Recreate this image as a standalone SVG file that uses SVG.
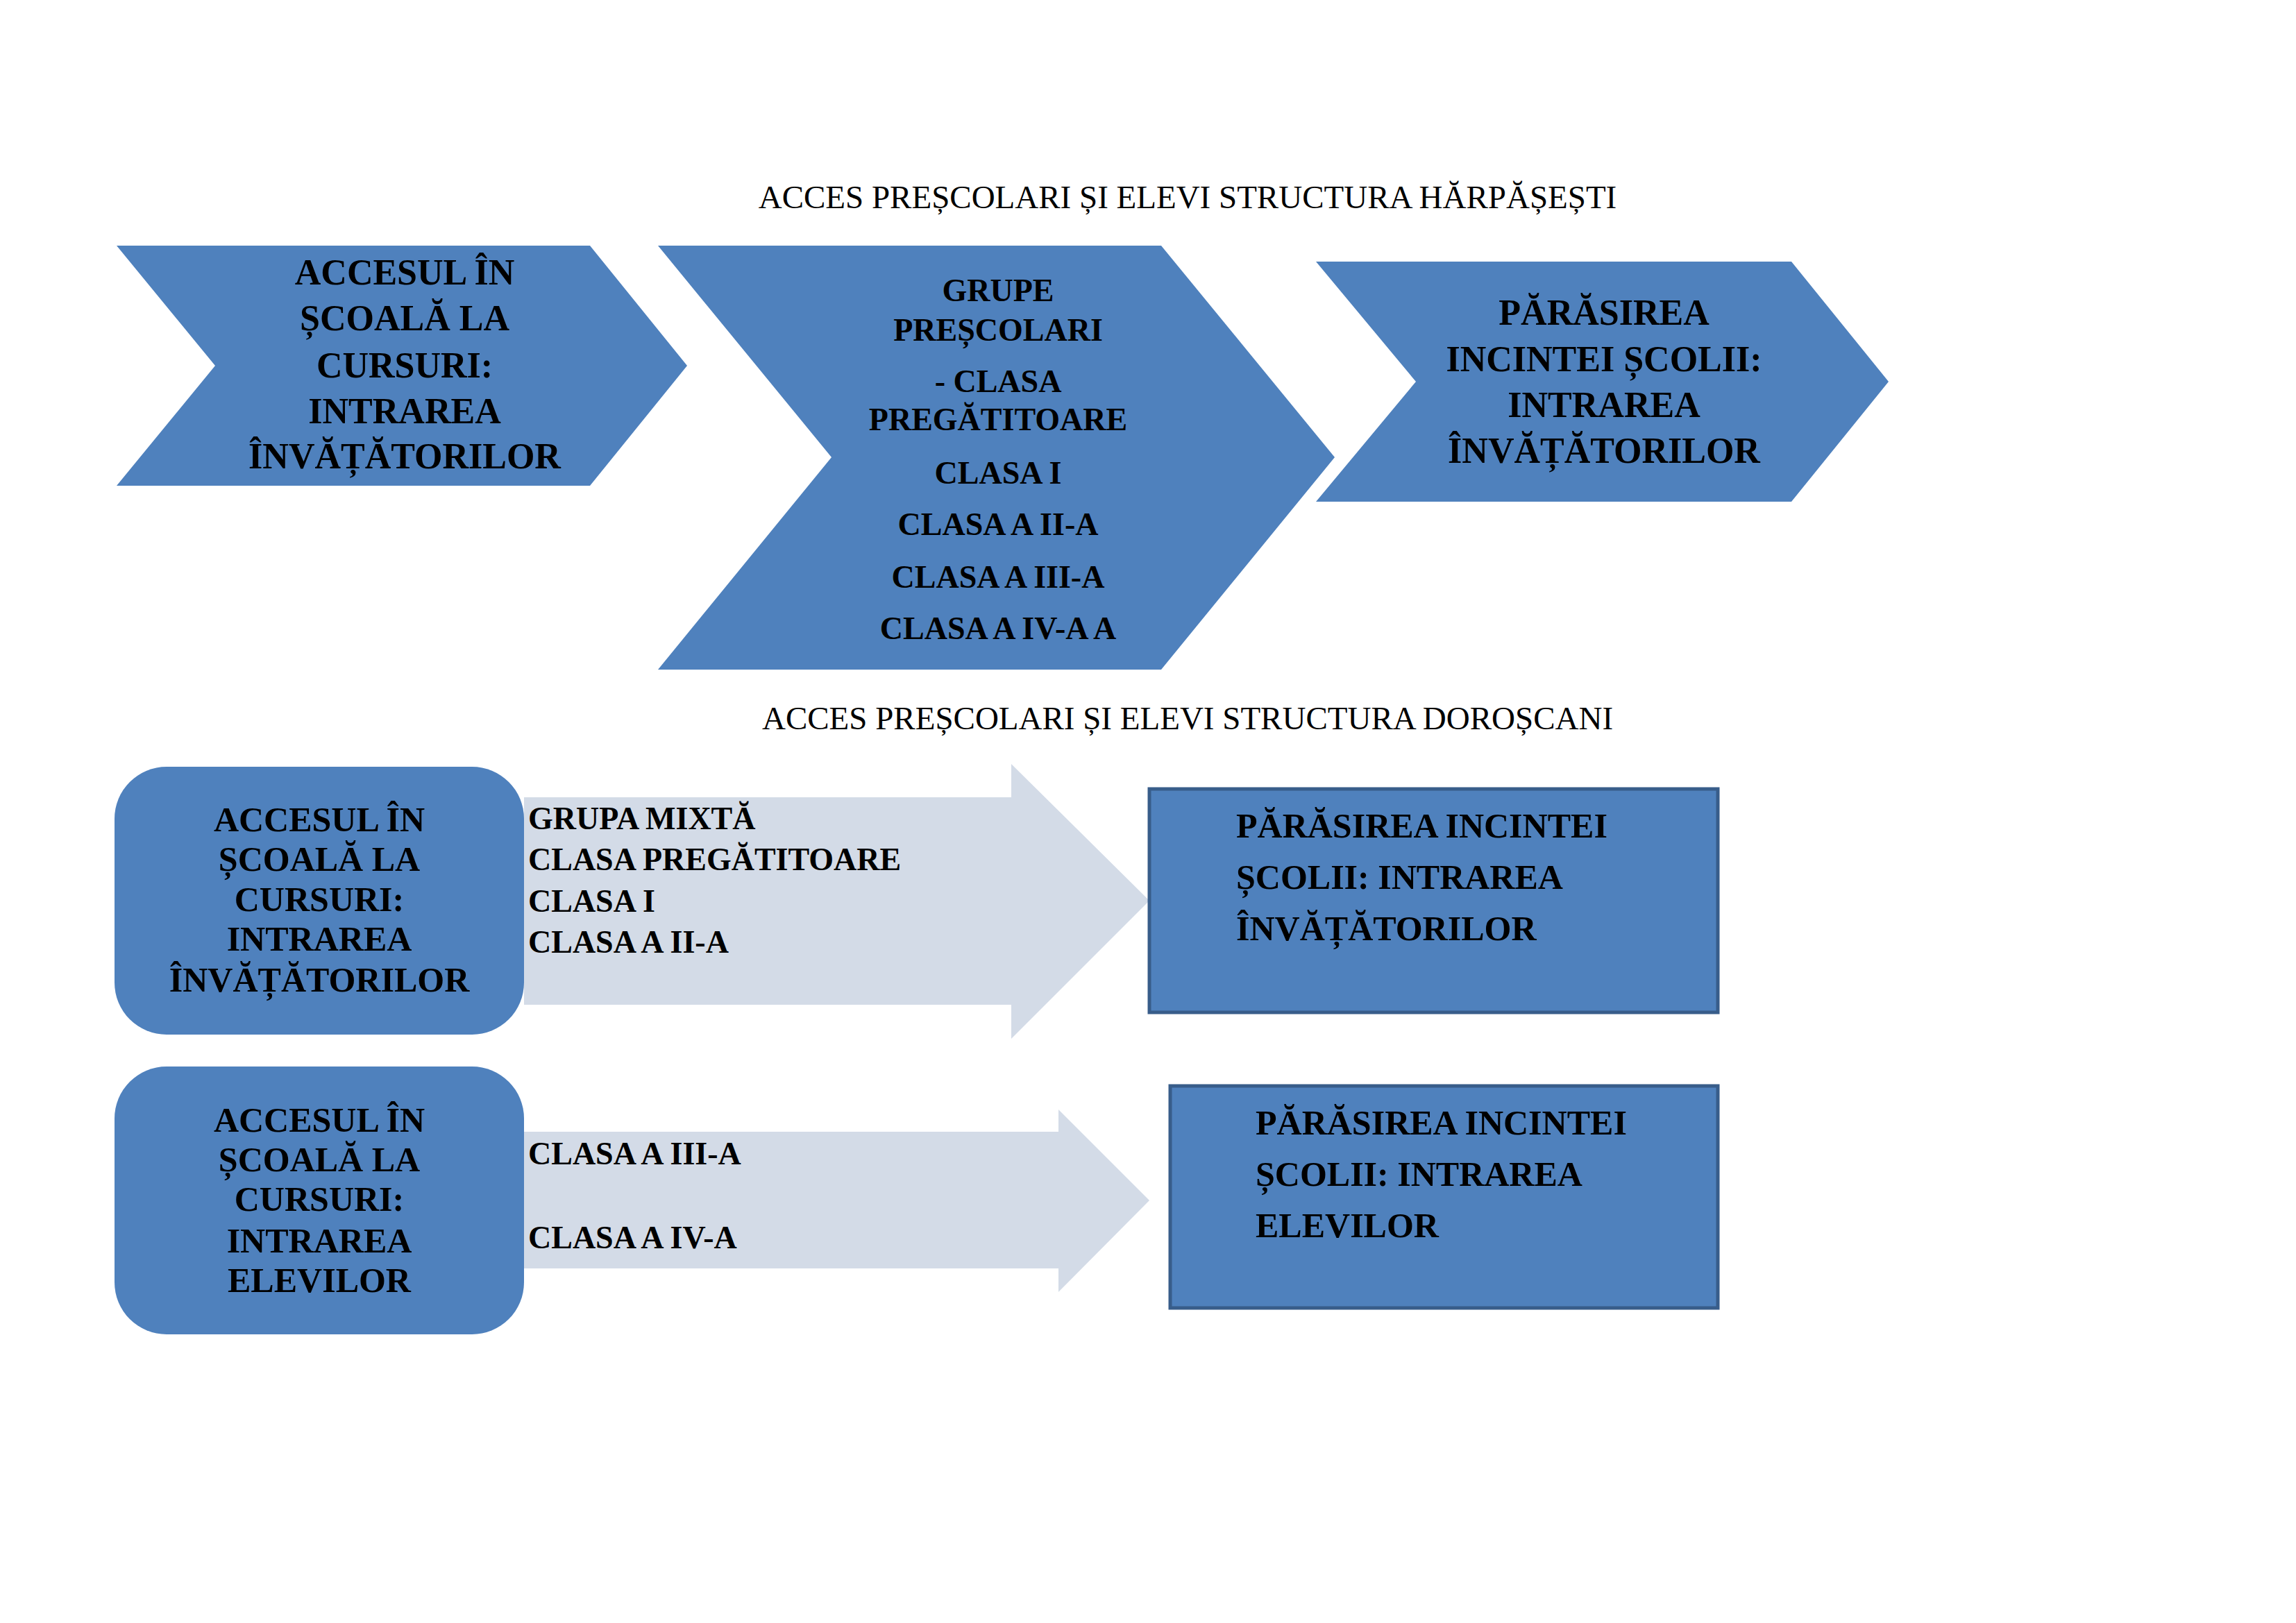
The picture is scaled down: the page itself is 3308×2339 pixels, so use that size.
<svg xmlns="http://www.w3.org/2000/svg" width="3308" height="2339" viewBox="0 0 3308 2339">
<style>
.b{fill:#4f81bd}
.r{fill:#4f81bd;stroke:#385d8a;stroke-width:5}
.a{fill:#d3dbe7}
text{font-family:"Liberation Serif","Times New Roman",serif;font-weight:bold;fill:#000;dominant-baseline:central}
.t{font-weight:normal;font-size:47px;text-anchor:middle}
.c{font-size:52px;text-anchor:middle}
.c2{font-size:46px;text-anchor:middle}
.x{font-size:50px;text-anchor:middle}
.l{font-size:46px}
.m{font-size:50px}
</style>
<rect width="3308" height="2339" fill="#fff"/>
<text class="t" x="1711" y="284">ACCES PREȘCOLARI ȘI ELEVI STRUCTURA HĂRPĂȘEȘTI</text>
<text class="t" x="1711" y="1035">ACCES PREȘCOLARI ȘI ELEVI STRUCTURA DOROȘCANI</text>
<g id="connectors">
<path class="a" d="M755 1149H1457V1101L1656 1298L1457 1497V1448H755Z"/>
<path class="a" d="M755 1631H1525V1599L1656 1730L1525 1862V1828H755Z"/>
</g>
<g id="n1"><path class="b" d="M168 354H850L990 527L850 700H168L310 527Z"/>
<text class="c" x="583" y="392">ACCESUL ÎN</text><text class="c" x="583" y="458">ȘCOALĂ LA</text><text class="c" x="583" y="526">CURSURI:</text><text class="c" x="583" y="592">INTRAREA</text><text class="c" x="583" y="657">ÎNVĂȚĂTORILOR</text></g>
<g id="n2"><path class="b" d="M948 354H1673L1923 659L1673 965H948L1198 659Z"/>
<text class="c2" x="1438" y="418">GRUPE</text><text class="c2" x="1438" y="475">PREȘCOLARI</text><text class="c2" x="1438" y="549">- CLASA</text><text class="c2" x="1438" y="604">PREGĂTITOARE</text><text class="c2" x="1438" y="681">CLASA I</text><text class="c2" x="1438" y="755">CLASA A II-A</text><text class="c2" x="1438" y="831">CLASA A III-A</text><text class="c2" x="1438" y="905">CLASA A IV-A A</text></g>
<g id="n3"><path class="b" d="M1896 377H2581L2721 550L2581 723H1896L2040 550Z"/>
<text class="c" x="2311" y="450">PĂRĂSIREA</text><text class="c" x="2311" y="517">INCINTEI ȘCOLII:</text><text class="c" x="2311" y="583">INTRAREA</text><text class="c" x="2311" y="649">ÎNVĂȚĂTORILOR</text></g>
<g id="n4"><rect class="b" x="165" y="1105" width="590" height="386" rx="75"/>
<text class="x" x="460" y="1181">ACCESUL ÎN</text><text class="x" x="460" y="1238">ȘCOALĂ LA</text><text class="x" x="460" y="1296">CURSURI:</text><text class="x" x="460" y="1353">INTRAREA</text><text class="x" x="460" y="1412">ÎNVĂȚĂTORILOR</text></g>
<g id="n5"><rect class="b" x="165" y="1537" width="590" height="386" rx="75"/>
<text class="x" x="460" y="1614">ACCESUL ÎN</text><text class="x" x="460" y="1671">ȘCOALĂ LA</text><text class="x" x="460" y="1728">CURSURI:</text><text class="x" x="460" y="1788">INTRAREA</text><text class="x" x="460" y="1845">ELEVILOR</text></g>
<g id="labels1"><text class="l" x="761" y="1179">GRUPA MIXTĂ</text><text class="l" x="761" y="1238">CLASA PREGĂTITOARE</text><text class="l" x="761" y="1298">CLASA I</text><text class="l" x="761" y="1357">CLASA A II-A</text></g>
<g id="labels2"><text class="l" x="761" y="1662">CLASA A III-A</text><text class="l" x="761" y="1783">CLASA A IV-A</text></g>
<g id="n6"><rect class="r" x="1656" y="1137" width="819" height="322"/>
<text class="m" x="1781" y="1190">PĂRĂSIREA INCINTEI</text><text class="m" x="1781" y="1264">ȘCOLII:  INTRAREA</text><text class="m" x="1781" y="1338">ÎNVĂȚĂTORILOR</text></g>
<g id="n7"><rect class="r" x="1686" y="1565" width="789" height="320"/>
<text class="m" x="1809" y="1618">PĂRĂSIREA INCINTEI</text><text class="m" x="1809" y="1692">ȘCOLII:  INTRAREA</text><text class="m" x="1809" y="1766">ELEVILOR</text></g>
</svg>
